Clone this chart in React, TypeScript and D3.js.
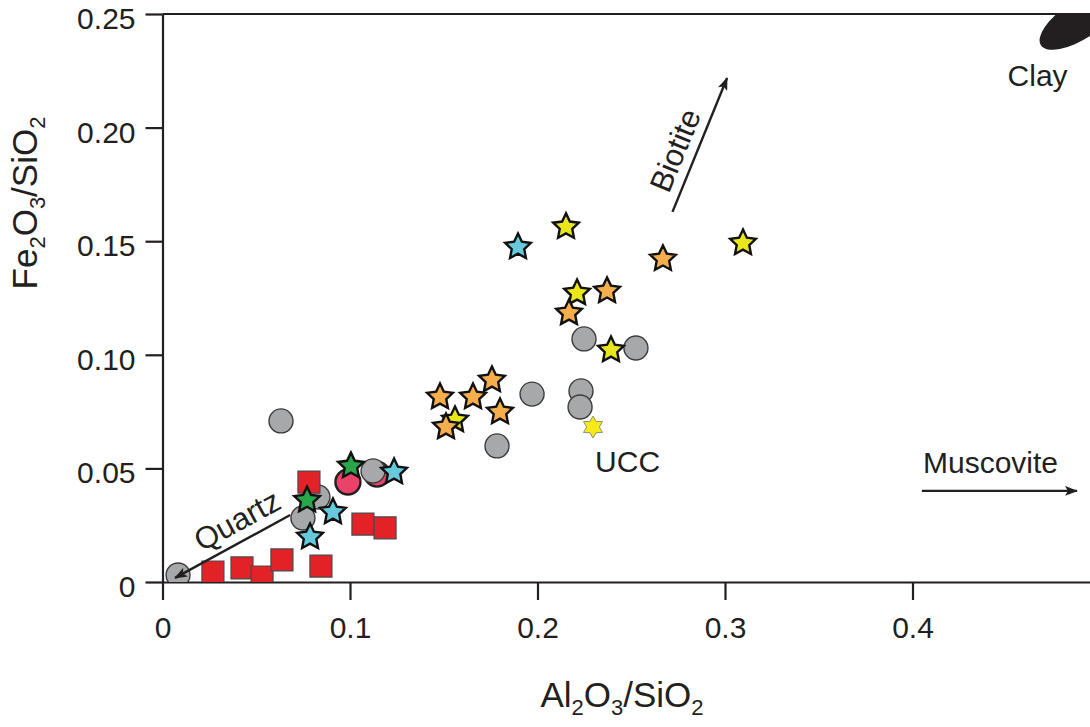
import React, { useEffect, useRef } from 'react';
import * as d3 from 'd3';

// axis ticks
const xTicks = [0, 0.1, 0.2, 0.3, 0.4];
const xTickLabels = ['0', '0.1', '0.2', '0.3', '0.4'];
const yTicks = [0, 0.05, 0.1, 0.15, 0.2, 0.25];
const yTickLabels = ['0', '0.05', '0.10', '0.15', '0.20', '0.25'];

// [Al2O3/SiO2, Fe2O3/SiO2]
const grayCircles: [number, number][] = [
    [0.0083, 0.0031], [0.0632, 0.0709], [0.0749, 0.0282], [0.0829, 0.0374],
    [0.1123, 0.0489], [0.1784, 0.0599], [0.1971, 0.0827], [0.2232, 0.0841],
    [0.2227, 0.077], [0.2248, 0.107], [0.2525, 0.103],
];
const pinkCircles: [number, number][] = [[0.0989, 0.044], [0.1144, 0.0475]];
const redSquares: [number, number][] = [
    [0.0269, 0.0044], [0.0424, 0.0062], [0.0531, 0.0022], [0.0637, 0.0097],
    [0.0845, 0.007], [0.0781, 0.044], [0.1069, 0.0255], [0.1187, 0.0238],
];
const yellowStars: [number, number][] = [
    [0.2152, 0.1563], [0.3096, 0.1492], [0.2211, 0.1272], [0.2392, 0.1021], [0.156, 0.0713],
];
const orangeStars: [number, number][] = [
    [0.2669, 0.1422], [0.2371, 0.1281], [0.2168, 0.1184], [0.148, 0.0814],
    [0.1656, 0.0814], [0.1757, 0.0889], [0.18, 0.0748], [0.1512, 0.0682],
];
const cyanStars: [number, number][] = [
    [0.1896, 0.1474], [0.1235, 0.0484], [0.0909, 0.0308], [0.0787, 0.0198],
];
const greenStars: [number, number][] = [[0.1005, 0.051], [0.0771, 0.036]];
const ucc: [number, number][] = [[0.2296, 0.0682]];

// mineral trend arrows: [tail, tip]
const arrows = [
    { label: 'Quartz', tail: [0.0681, 0.0295], tip: [0.0067, 0.0018], along: 82, side: 'reverse' },
    { label: 'Biotite', tail: [0.272, 0.1629], tip: [0.3011, 0.2218], along: 58, side: 'forward' },
];

const W = 1090;
const H = 727;
const INK = '#231f20';
const FONT = '"Liberation Sans", Arial, Helvetica, sans-serif';

function starPath(outer: number, inner: number, points: number) {
    const pts: [number, number][] = d3.range(points * 2).map(i => [
        (i * Math.PI) / points,
        i % 2 === 0 ? outer : inner,
    ]);
    return d3.lineRadial().curve(d3.curveLinearClosed)(pts) as string;
}

export default function App() {
    const svgRef = useRef<SVGSVGElement>(null);

    useEffect(() => {
        if (!svgRef.current) return;
        const svg = d3.select(svgRef.current);
        svg.selectAll('*').remove();

        const x = d3.scaleLinear().domain([0, 0.5]).range([162.5, 162.5 + 1875 * 0.5]);
        const y = d3.scaleLinear().domain([0, 0.25]).range([582, 14]);

        const defs = svg.append('defs');
        defs.append('clipPath').attr('id', 'plotClip')
            .append('rect')
            .attr('x', x(0)).attr('y', y(0.25))
            .attr('width', W - x(0)).attr('height', y(0) - y(0.25));

        defs.append('marker')
            .attr('id', 'head')
            .attr('viewBox', '0 0 13 10')
            .attr('refX', 12).attr('refY', 5)
            .attr('markerWidth', 13).attr('markerHeight', 10)
            .attr('markerUnits', 'userSpaceOnUse')
            .attr('orient', 'auto')
            .append('path')
            .attr('d', 'M0,0 L13,5 L0,10 L3,5 Z')
            .attr('fill', INK);

        // clay field
        svg.append('g').attr('clip-path', 'url(#plotClip)')
            .append('ellipse')
            .attr('cx', x(0.4895)).attr('cy', y(0.2475))
            .attr('rx', 47).attr('ry', 19)
            .attr('transform', `rotate(-33 ${x(0.4895)} ${y(0.2475)})`)
            .attr('fill', INK);

        // axes
        const yAxis = svg.append('g')
            .attr('transform', `translate(${x(0)},0)`)
            .call(d3.axisLeft(y).tickValues(yTicks)
                .tickFormat((_, i) => yTickLabels[i])
                .tickSize(17).tickSizeOuter(0).tickPadding(10));
        const xAxis = svg.append('g')
            .attr('transform', `translate(0,${y(0)})`)
            .call(d3.axisBottom(x).tickValues(xTicks)
                .tickFormat((_, i) => xTickLabels[i])
                .tickSize(18).tickSizeOuter(0).tickPadding(17));
        [yAxis, xAxis].forEach(g => {
            g.selectAll('path, line').attr('stroke', INK).attr('stroke-width', 2.2);
            g.selectAll('text').attr('fill', INK).style('font-family', FONT).style('font-size', '30px');
        });
        yAxis.selectAll('text').attr('dy', '0.48em');

        svg.append('line')
            .attr('x1', x(0)).attr('x2', W)
            .attr('y1', y(0.25)).attr('y2', y(0.25))
            .attr('stroke', INK).attr('stroke-width', 2.2);

        // axis titles with subscripts
        const title = (g: d3.Selection<SVGTextElement, unknown, null, undefined>, parts: [string, boolean][]) => {
            parts.forEach(([t, sub], i) => {
                const prevSub = i > 0 && parts[i - 1][1];
                g.append('tspan')
                    .attr('dy', sub ? 8 : prevSub ? -8 : 0)
                    .style('font-size', sub ? '22px' : '35px')
                    .text(t);
            });
        };
        const xt = svg.append('text')
            .attr('x', 622).attr('y', 707)
            .attr('text-anchor', 'middle')
            .attr('fill', INK).style('font-family', FONT);
        title(xt, [['Al', false], ['2', true], ['O', false], ['3', true], ['/SiO', false], ['2', true]]);
        const yt = svg.append('text')
            .attr('transform', 'translate(37,203) rotate(-90)')
            .attr('text-anchor', 'middle')
            .attr('fill', INK).style('font-family', FONT);
        title(yt, [['Fe', false], ['2', true], ['O', false], ['3', true], ['/SiO', false], ['2', true]]);

        // samples
        const pts = svg.append('g').attr('clip-path', 'url(#plotClip)');
        const circles = (data: [number, number][], r: number, fill: string, stroke: string, sw: number) =>
            pts.append('g').selectAll('circle').data(data).enter().append('circle')
                .attr('cx', d => x(d[0])).attr('cy', d => y(d[1])).attr('r', r)
                .attr('fill', fill).attr('stroke', stroke).attr('stroke-width', sw);
        const symbols = (data: [number, number][], path: string, fill: string, stroke: string, sw: number) =>
            pts.append('g').selectAll('path').data(data).enter().append('path')
                .attr('d', path)
                .attr('transform', d => `translate(${x(d[0])},${y(d[1])})`)
                .attr('fill', fill).attr('stroke', stroke).attr('stroke-width', sw)
                .attr('stroke-linejoin', 'miter');

        circles(pinkCircles, 12.5, '#ec4168', INK, 2.4);
        circles(grayCircles, 12, '#a7a8aa', '#3c3c3c', 1.4);
        symbols(redSquares, 'M-11,-11H11V11H-11Z', '#e32227', '#4a4a4a', 1.2);
        const star = starPath(13.5, 6.6, 5);
        symbols(yellowStars, star, '#e9e61b', '#111', 2.4);
        symbols(orangeStars, star, '#f6ad4b', '#111', 2.4);
        symbols(cyanStars, star, '#66cadc', '#111', 2.4);
        symbols(greenStars, star, '#27a74a', '#111', 2.4);
        symbols(ucc, starPath(11, 6.4, 6), '#f5ea14', '#777', 0.8);

        // trend arrows (drawn over the samples)
        const ann = svg.append('g');
        arrows.forEach(a => {
            const [tx, ty] = [x(a.tail[0]), y(a.tail[1])];
            const [hx, hy] = [x(a.tip[0]), y(a.tip[1])];
            ann.append('line')
                .attr('x1', tx).attr('y1', ty).attr('x2', hx).attr('y2', hy)
                .attr('stroke', INK).attr('stroke-width', 2.4)
                .attr('marker-end', 'url(#head)');
            // text reads left to right along the arrow
            const [sx, sy, ex, ey] = a.side === 'reverse' ? [hx, hy, tx, ty] : [tx, ty, hx, hy];
            const len = Math.hypot(ex - sx, ey - sy);
            const dx = (ex - sx) / len, dy = (ey - sy) / len;
            const ang = (Math.atan2(dy, dx) * 180) / Math.PI;
            const px = sx + dx * a.along + dy * 10;
            const py = sy + dy * a.along - dx * 10;
            ann.append('text')
                .attr('transform', `translate(${px},${py}) rotate(${ang})`)
                .attr('text-anchor', 'middle')
                .attr('fill', INK).style('font-family', FONT).style('font-size', '31px')
                .text(a.label);
        });
        ann.append('line')
            .attr('x1', x(0.405)).attr('x2', x(0.4877))
            .attr('y1', y(0.0401)).attr('y2', y(0.0401))
            .attr('stroke', INK).attr('stroke-width', 2.4)
            .attr('marker-end', 'url(#head)');
        const label = (t: string, lx: number, ly: number, anchor = 'start') =>
            ann.append('text').attr('x', x(lx)).attr('y', y(ly))
                .attr('text-anchor', anchor)
                .attr('fill', INK).style('font-family', FONT).style('font-size', '30px')
                .text(t);
        label('Muscovite', 0.4056, 0.048);
        label('Clay', 0.4667, 0.2183, 'middle');
        label('UCC', 0.2307, 0.0484);
    }, []);

    return (
        <svg
            ref={svgRef}
            width={W}
            height={H}
            viewBox={`0 0 ${W} ${H}`}
            style={{ position: 'absolute', left: 0, top: 0, background: '#fff' }}
        />
    );
}
